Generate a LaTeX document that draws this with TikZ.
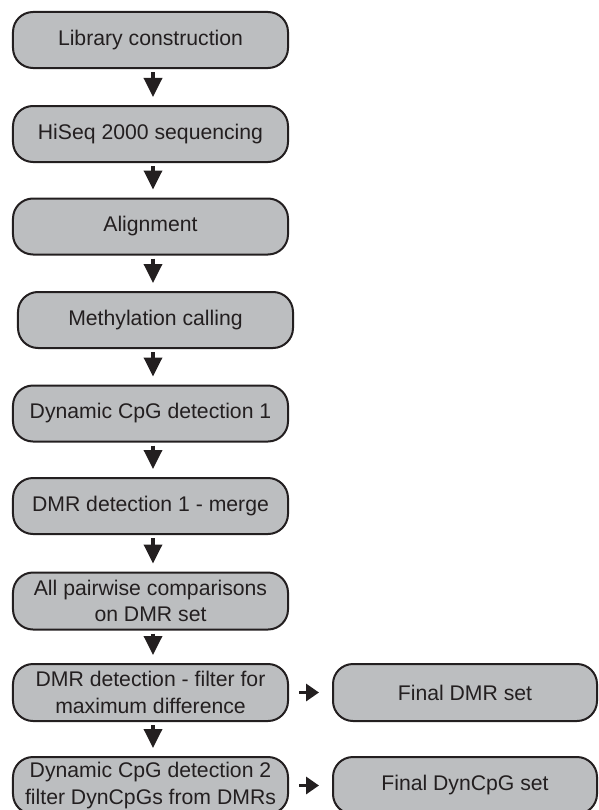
\documentclass[tikz,border=0pt]{standalone}
\usepackage{fontspec}
\setmainfont{Liberation Sans}
\usetikzlibrary{arrows.meta}
\definecolor{boxfill}{RGB}{188,190,192}
\definecolor{ink}{RGB}{35,31,32}
\tikzset{
  stepbox/.style={draw=ink, line width=2bp, fill=boxfill, rounded corners=20bp,
    minimum width=275bp, minimum height=56bp, inner sep=0pt, align=center,
    text=ink, font=\fontsize{21.2bp}{26.5bp}\selectfont},
  finalbox/.style={stepbox, minimum width=264bp, minimum height=57bp},
  varrow/.style={draw=ink, line width=3.5bp, -{Triangle[width=18bp,length=19bp]}},
  harrow/.style={draw=ink, line width=3.5bp, -{Triangle[width=17bp,length=13bp]}}
}
\begin{document}
\begin{tikzpicture}[x=1bp,y=-1bp]
\useasboundingbox (0,0) rectangle (599,810);
\node[stepbox] (b1) at (150.5,40) {Library construction};
\node[stepbox] (b2) at (150.5,134) {HiSeq 2000 sequencing};
\node[stepbox] (b3) at (150.5,226.5) {Alignment};
\node[stepbox] (b4) at (155.5,320) {Methylation calling};
\node[stepbox] (b5) at (150.5,413.5) {Dynamic CpG detection 1};
\node[stepbox] (b6) at (150.5,506) {DMR detection 1 - merge};
\node[stepbox, minimum height=57bp] (b7) at (150.5,601) {All pairwise comparisons\\on DMR set};
\node[stepbox, minimum height=57bp] (b8) at (150.5,692.5) {DMR detection - filter for\\maximum difference};
\node[stepbox, minimum height=57bp] (b9) at (150.5,785.5) {Dynamic CpG detection 2\\filter DynCpGs from DMRs};
\node[finalbox] (f1) at (465,692.5) {Final DMR set};
\node[finalbox] (f2) at (465,785.5) {Final DynCpG set};
\coordinate (ax) at (153,0);
\draw[varrow] ([yshift=-3bp]ax |- b1.south) -- ([yshift=8bp]ax |- b2.north);
\draw[varrow] ([yshift=-3bp]ax |- b2.south) -- ([yshift=8bp]ax |- b3.north);
\draw[varrow] ([yshift=-3bp]ax |- b3.south) -- ([yshift=8bp]ax |- b4.north);
\draw[varrow] ([yshift=-3bp]ax |- b4.south) -- ([yshift=8bp]ax |- b5.north);
\draw[varrow] ([yshift=-3bp]ax |- b5.south) -- ([yshift=8bp]ax |- b6.north);
\draw[varrow] ([yshift=-3bp]ax |- b6.south) -- ([yshift=8bp]ax |- b7.north);
\draw[varrow] ([yshift=-3bp]ax |- b7.south) -- ([yshift=8bp]ax |- b8.north);
\draw[varrow] ([yshift=-3bp]ax |- b8.south) -- ([yshift=8bp]ax |- b9.north);
\draw[harrow] ([xshift=10bp]b8.east) -- ([xshift=-13bp]f1.west);
\draw[harrow] ([xshift=10bp]b9.east) -- ([xshift=-13bp]f2.west);
\end{tikzpicture}
\end{document}
